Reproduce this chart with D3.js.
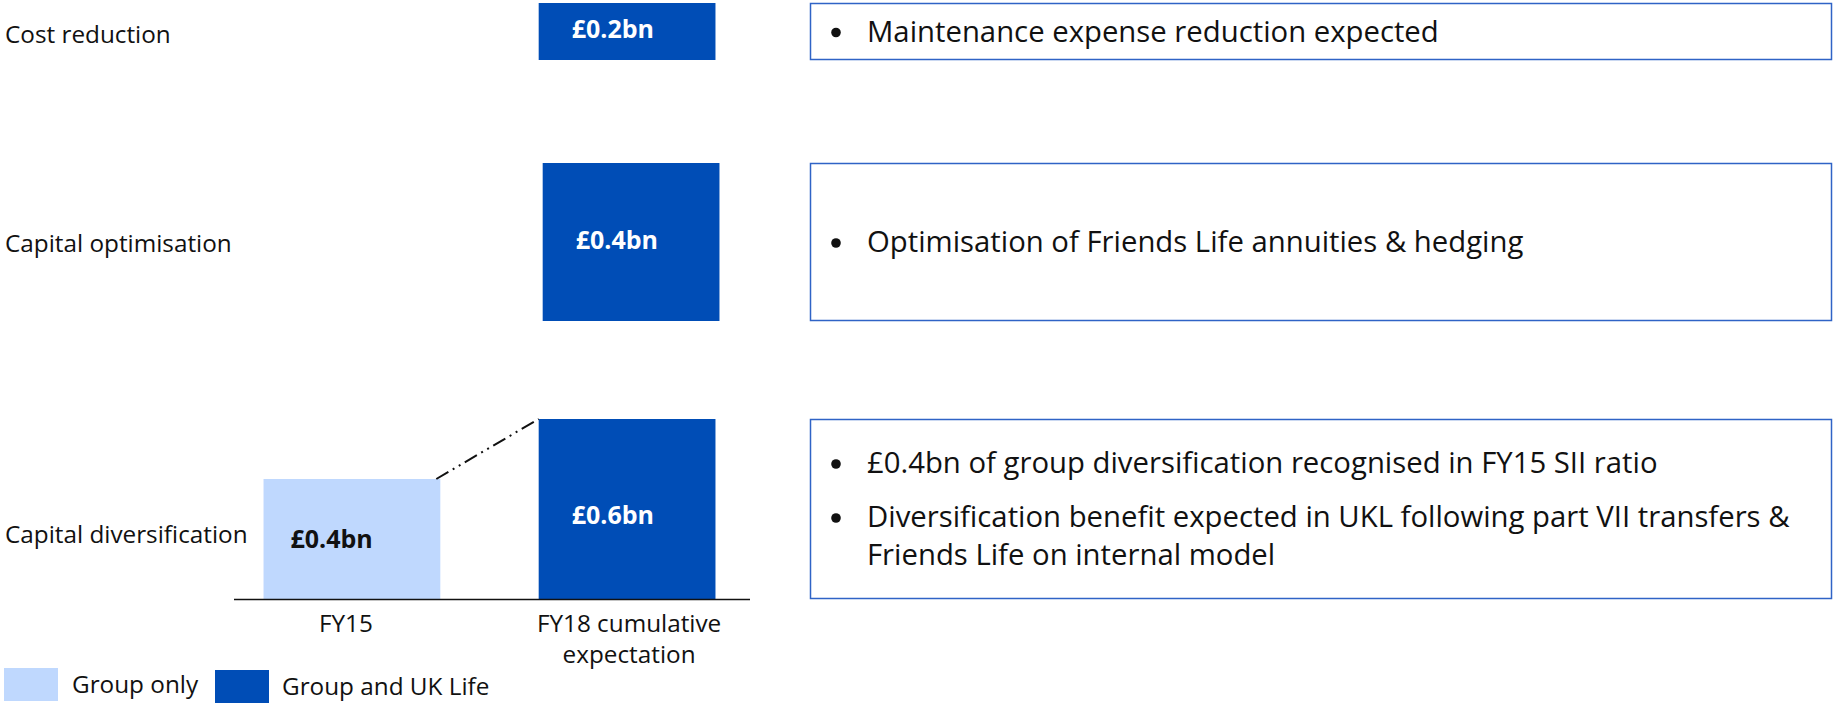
<!DOCTYPE html>
<html>
<head>
<meta charset="utf-8">
<script src="https://cdn.jsdelivr.net/npm/d3@7"></script>
<style>
  html, body { margin: 0; padding: 0; background: #fff; }
  svg { display: block; font-family: "Open Sans", "Noto Sans", sans-serif; }
</style>
</head>
<body>
<svg id="chart" width="1835" height="703"></svg>
<script>
// Data
const rows = ['Cost reduction', 'Capital optimisation', 'Capital diversification'];
const periods = ['FY15', 'FY18 cumulative expectation'];
const seriesNames = ['Group only', 'Group and UK Life'];
// values in £bn per row, one per period (null = no bar)
const costValues = [null, 0.2];
const optimisationValues = [null, 0.4];
const diversificationValues = [0.4, 0.6];
const rowValues = [costValues, optimisationValues, diversificationValues];
// which series each bar belongs to
const costSeries = [null, 1];
const optimisationSeries = [null, 1];
const diversificationSeries = [0, 1];
const rowSeries = [costSeries, optimisationSeries, diversificationSeries];
const notes = [
  ['Maintenance expense reduction expected'],
  ['Optimisation of Friends Life annuities & hedging'],
  ['£0.4bn of group diversification recognised in FY15 SII ratio',
   'Diversification benefit expected in UKL following part VII transfers & Friends Life on internal model']
];

// Layout
const width = 1835, height = 703;
const rowBands = [[3, 60], [163, 321], [419, 599]];  // vertical extent of each row
const rowShift = [0, 4, 0];                          // small horizontal nudge per row
const rowLabelY = [34, 243, 534];
const valueLabelShift = [[0, -2], [0, -2], [0, 6]];
const colors = ['#bfd8fe', '#004db6'];
const labelColors = ['#111', '#fff'];
const panelX = [810.5, 1831.5];

const svg = d3.select('#chart');

const x = d3.scaleBand().domain(periods).range([214, 765]).paddingInner(0.3575).paddingOuter(0.18);
const color = d3.scaleOrdinal().domain(seriesNames).range(colors);

// Rows
rows.forEach((row, i) => {
  const [top, bottom] = rowBands[i];
  const vals = rowValues[i];
  const y = d3.scaleLinear().domain([0, d3.max(vals)]).range([bottom, top]);
  const g = svg.append('g').attr('transform', `translate(${rowShift[i]},0)`);

  const bars = periods.map((p, j) => ({ period: p, idx: j, value: vals[j], series: rowSeries[i][j] }))
    .filter(d => d.value != null);

  g.selectAll('rect.bar')
    .data(bars)
    .enter()
    .append('rect')
    .attr('class', 'bar')
    .attr('x', d => x(d.period))
    .attr('y', d => y(d.value))
    .attr('width', x.bandwidth())
    .attr('height', d => y(0) - y(d.value))
    .attr('fill', d => colors[d.series]);

  g.selectAll('text.val')
    .data(bars)
    .enter()
    .append('text')
    .attr('class', 'val')
    .attr('x', d => x(d.period) + (d.series === 0 ? 27 : 33))
    .attr('y', d => (y(d.value) + y(0)) / 2 + valueLabelShift[i][d.idx])
    .attr('dy', '0.35em')
    .attr('font-size', 25)
    .attr('font-weight', 700)
    .attr('fill', d => labelColors[d.series])
    .text(d => `£${d.value.toFixed(1)}bn`);

  // Row label
  svg.append('text')
    .attr('x', 5)
    .attr('y', rowLabelY[i])
    .attr('dy', '0.35em')
    .attr('font-size', 24.3)
    .attr('fill', '#111')
    .text(row);

  // Connector between FY15 and FY18 bars
  if (bars.length === 2) {
    const a = bars[0], b = bars[1];
    g.append('line')
      .attr('x1', x(a.period) + x.bandwidth() - 4)
      .attr('y1', y(a.value))
      .attr('x2', x(b.period))
      .attr('y2', y(b.value))
      .attr('stroke', '#111')
      .attr('stroke-width', 2)
      .attr('stroke-dasharray', '14 5 2 5 2 5');

    // Axis along the bottom of the last row
    const axis = svg.append('g')
      .attr('transform', `translate(0,${bottom})`)
      .call(d3.axisBottom(x).tickSize(0).tickPadding(0).tickFormat(''));
    axis.select('.domain').attr('d', 'M234,0.5H750').attr('stroke', '#111').attr('stroke-width', 1.5);

    const lab = svg.append('g').selectAll('text.cat')
      .data(periods)
      .enter()
      .append('text')
      .attr('class', 'cat')
      .attr('x', (d, k) => x(d) + x.bandwidth() / 2 + (k === 0 ? -6 : 2))
      .attr('y', bottom + 33)
      .attr('text-anchor', 'middle')
      .attr('font-size', 24.3)
      .attr('fill', '#111');
    lab.each(function (d) {
      const words = d.split(' ');
      const lines = words.length > 2 ? [words.slice(0, 2).join(' '), words.slice(2).join(' ')] : [d];
      lines.forEach((ln, li) => {
        d3.select(this).append('tspan')
          .attr('x', d3.select(this).attr('x'))
          .attr('dy', li === 0 ? 0 : 31)
          .text(ln);
      });
    });
  }

  // Note panel
  svg.append('rect')
    .attr('x', panelX[0])
    .attr('y', top + 0.5)
    .attr('width', panelX[1] - panelX[0])
    .attr('height', bottom - top - 1)
    .attr('fill', 'none')
    .attr('stroke', '#2f63c6')
    .attr('stroke-width', 1.5);
});

// Note texts (wrapped)
const noteFont = 29.3, lineGap = 38, bulletGap = 54, textX = 867, maxW = 1825 - 867;
const measure = svg.append('text').attr('font-size', noteFont).attr('visibility', 'hidden');
function wrap(str) {
  const words = str.split(' ');
  const lines = [];
  let cur = '';
  words.forEach(w => {
    const t = cur ? cur + ' ' + w : w;
    measure.text(t);
    if (measure.node().getComputedTextLength() > maxW && cur) { lines.push(cur); cur = w; } else cur = t;
  });
  lines.push(cur);
  return lines;
}
notes.forEach((items, i) => {
  const [top, bottom] = rowBands[i];
  const wrapped = items.map(wrap);
  let total = 0;
  wrapped.forEach((ls, k) => { total += (k > 0 ? bulletGap : 0) + (ls.length - 1) * lineGap; });
  let yy = (top + bottom) / 2 - total / 2 + 10;
  const g = svg.append('g');
  wrapped.forEach((ls, k) => {
    if (k > 0) yy += bulletGap;
    g.append('circle').attr('cx', 836).attr('cy', yy - 9).attr('r', 4.8).attr('fill', '#111');
    ls.forEach((ln, li) => {
      if (li > 0) yy += lineGap;
      g.append('text')
        .attr('x', textX)
        .attr('y', yy)
        .attr('font-size', noteFont)
        .attr('fill', '#111')
        .text(ln);
    });
  });
});
measure.remove();

// Legend
const legend = svg.append('g').selectAll('g')
  .data(seriesNames)
  .enter()
  .append('g')
  .attr('transform', (d, i) => `translate(${[4, 215][i]},${[668, 670][i]})`);
legend.append('rect').attr('width', 54).attr('height', 33).attr('fill', d => color(d));
legend.append('text')
  .attr('x', (d, i) => [68, 67][i])
  .attr('y', 25)
  .attr('font-size', 24.3)
  .attr('fill', '#111')
  .text(d => d);
</script>
</body>
</html>
